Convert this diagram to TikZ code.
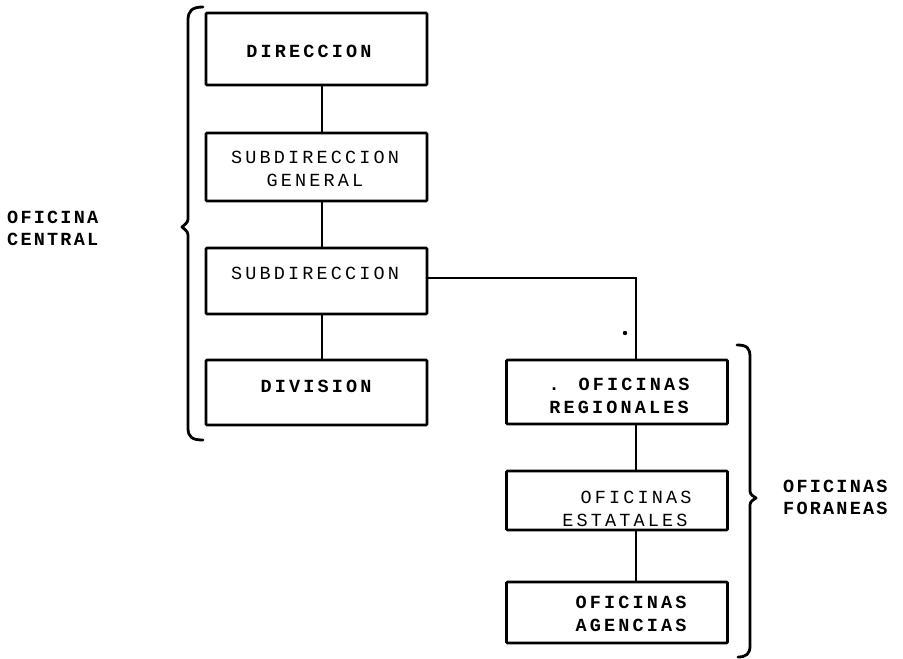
\documentclass[tikz,border=0pt]{standalone}
\usepackage{fontspec}
\newfontfamily\tw[LetterSpace=17]{Liberation Mono}
\newfontfamily\twl[LetterSpace=12]{Liberation Mono}
\begin{document}
\begin{tikzpicture}[x=1pt,y=-1pt,
  box/.style={draw,line width=2.6pt,minimum width=221pt,inner sep=0pt,rounded corners=1pt},
  txt/.style={font=\tw\fontsize{18.5}{23}\selectfont,align=center,inner sep=0pt},
  txtb/.style={txt,font=\tw\bfseries\fontsize{18.5}{23}\selectfont},
  side/.style={font=\twl\bfseries\fontsize{18.5}{22}\selectfont,align=left,inner sep=0pt,anchor=west},
  conn/.style={line width=2.8pt},
  brace/.style={line width=2.8pt,line cap=round,line join=round}]
\useasboundingbox (0,0) rectangle (903,659);
% left column boxes
\node[box,minimum height=72pt] (dir) at (316.5,49) {};
\node[box,minimum height=68pt] (gen) at (316.5,167) {};
\node[box,minimum height=66pt] (sub) at (316.5,281) {};
\node[box,minimum height=65pt] (div) at (316.5,392.5) {};
% right column boxes
\node[box,minimum height=64pt] (reg) at (617,392) {};
\node[box,minimum height=59pt] (est) at (617,500.5) {};
\node[box,minimum height=61pt] (age) at (617,612.5) {};
% texts
\node[txtb] (dirT) at (309,51) {DIRECCION};
\node[txt] (genT) at (315,169) {SUBDIRECCION\\GENERAL};
\node[txt] (subT) at (315,273.5) {SUBDIRECCION};
\node[txtb] (divT) at (316,386.5) {DIVISION};
\node[txtb] (regT) at (619,395.5) {. OFICINAS\\REGIONALES};
\node[txt] (estT) at (625,508.5) {\hspace*{1.2em}OFICINAS\\ESTATALES};
\node[txtb] (ageT) at (631,614) {OFICINAS\\AGENCIAS};
\node[side] (cen) at (7,228.5) {OFICINA\\CENTRAL};
\node[side] (for) at (783,497) {OFICINAS\\FORANEAS};
% connectors
\draw[conn] ([xshift=5.5pt]dir.south) -- ([xshift=5.5pt]gen.north);
\draw[conn] ([xshift=5.5pt]gen.south) -- ([xshift=5.5pt]sub.north);
\draw[conn] ([xshift=5.5pt]sub.south) -- ([xshift=5.5pt]div.north);
\draw[conn] ([yshift=3pt]sub.east) -| ([xshift=19pt]reg.north);
\draw[conn] ([xshift=19pt]reg.south) -- ([xshift=19pt]est.north);
\draw[conn] ([xshift=19pt]est.south) -- ([xshift=19pt]age.north);
\fill (625,333) circle (2.2pt);
% braces
\draw[brace] (203,7) .. controls (192,7) and (188,11) .. (188,20) -- (188,216)
  .. controls (188,222) .. (182,227) .. controls (188,232) .. (188,238) -- (188,428)
  .. controls (188,437) and (192,440) .. (203,440);
\draw[brace] (737,345) .. controls (747,345) and (750,348) .. (750,357) -- (750,488)
  .. controls (750,494) .. (756,498) .. controls (750,502) .. (750,508) -- (750,646)
  .. controls (750,654) and (746,657) .. (738,657);
\end{tikzpicture}
\end{document}
